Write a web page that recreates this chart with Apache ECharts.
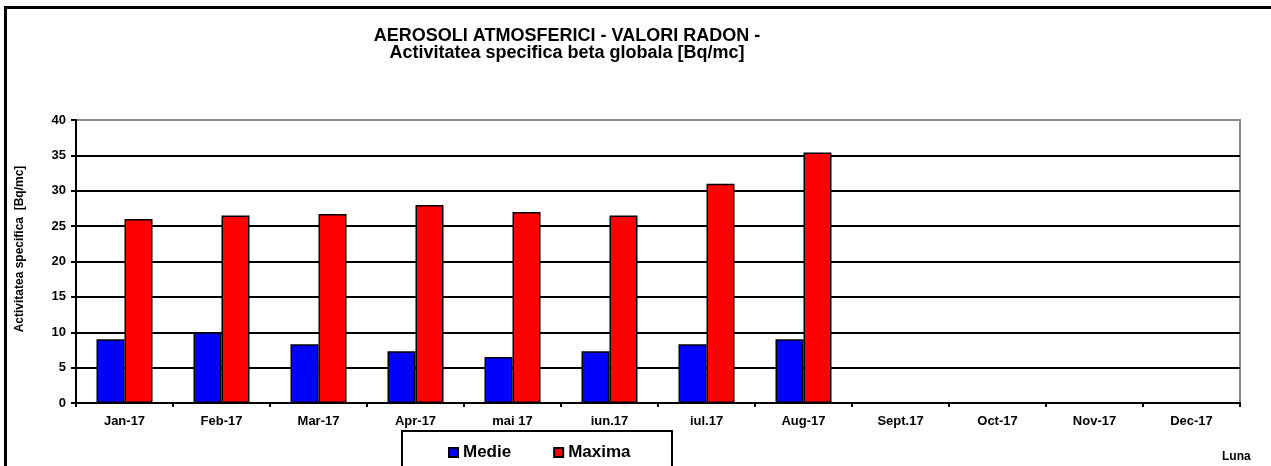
<!DOCTYPE html>
<html>
<head>
<meta charset="utf-8">
<script src="https://cdn.jsdelivr.net/npm/echarts@6/dist/echarts.min.js"></script>
<style>
  html, body { margin: 0; padding: 0; background: #fff; }
  #main { width: 1271px; height: 466px; }
</style>
</head>
<body>
<div id="main"></div>
<script>
// luni
const months = ['Jan-17', 'Feb-17', 'Mar-17', 'Apr-17', 'mai 17', 'iun.17', 'iul.17', 'Aug-17', 'Sept.17', 'Oct-17', 'Nov-17', 'Dec-17']
// valori medii si maxime [Bq/mc]
const medie = [9.0, 10.0, 8.3, 7.3, 6.5, 7.3, 8.3, 9.0, null, null, null, null]
const maxima = [26.0, 26.5, 26.7, 28.0, 27.0, 26.5, 31.0, 35.4, null, null, null, null]

const font = 'Arial, "Liberation Sans", sans-serif'

const chart = echarts.init(document.getElementById('main'))

const option = {
  animation: false,
  backgroundColor: '#fff',
  title: {
    text: 'AEROSOLI ATMOSFERICI - VALORI RADON -\nActivitatea specifica beta globala [Bq/mc]',
    left: 562,
    top: 23,
    textAlign: 'center',
    textStyle: { fontFamily: font, fontSize: 18, fontWeight: 'bold', color: '#000', lineHeight: 17 }
  },
  legend: {
    left: 443,
    top: 439,
    itemWidth: 9,
    itemHeight: 9,
    itemGap: 42,
    icon: 'rect',
    textStyle: { fontFamily: font, fontSize: 17, fontWeight: 'bold', color: '#000', padding: [3, 0, 0, 0] },
    data: ['Medie', 'Maxima']
  },
  grid: {
    left: 76, right: 31, top: 120, bottom: 63,
    show: true, borderColor: '#8a8a8a', borderWidth: 2
  },
  xAxis: {
    type: 'category',
    data: months,
    axisLine: { lineStyle: { color: '#000', width: 2 } },
    axisTick: { show: true, length: 4, lineStyle: { color: '#000', width: 2 } },
    axisLabel: { fontFamily: font, fontSize: 13, fontWeight: 'bold', color: '#000', margin: 12 }
  },
  yAxis: {
    type: 'value',
    min: 0, max: 40, interval: 5,
    axisLine: { show: true, lineStyle: { color: '#000', width: 2 } },
    axisTick: { show: true, length: 5, lineStyle: { color: '#000', width: 2 } },
    axisLabel: { fontFamily: font, fontSize: 13, fontWeight: 'bold', color: '#000', margin: 10 },
    splitLine: { show: true, showMaxLine: false, lineStyle: { color: '#000', width: 2 } }
  },
  series: [
    {
      name: 'Medie', type: 'bar', data: medie,
      barWidth: 28, barGap: '0%',
      itemStyle: { color: '#0000ff', borderColor: '#000', borderWidth: 1.5 }
    },
    {
      name: 'Maxima', type: 'bar', data: maxima,
      barWidth: 28, barGap: '0%',
      itemStyle: { color: '#ff0000', borderColor: '#000', borderWidth: 1.5 }
    }
  ],
  graphic: [
    // chenarul exterior
    { type: 'line', shape: { x1: 4, y1: 7.5, x2: 1271, y2: 7.5 }, style: { stroke: '#000', lineWidth: 3 } },
    { type: 'line', shape: { x1: 5.5, y1: 6, x2: 5.5, y2: 466 }, style: { stroke: '#000', lineWidth: 3 } },
    // chenar legenda
    { type: 'rect', shape: { x: 402, y: 431, width: 270, height: 40 }, style: { fill: 'none', stroke: '#000', lineWidth: 2 } },
    // titlul axei Y
    {
      type: 'text', x: 20, y: 249, rotation: Math.PI / 2,
      style: { text: 'Activitatea specifica  [Bq/mc]', font: 'bold 12px ' + font, fill: '#000', align: 'center', verticalAlign: 'middle' }
    },
    {
      type: 'text', left: 1222, top: 451,
      style: { text: 'Luna', font: 'bold 12px ' + font, fill: '#000' }
    }
  ]
}

chart.setOption(option)
</script>
</body>
</html>
